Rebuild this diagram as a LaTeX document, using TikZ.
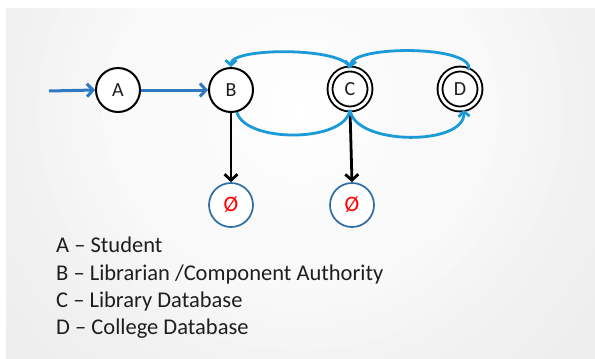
\documentclass[tikz,border=0pt]{standalone}
\usepackage{fontspec}
\setmainfont{Carlito}
\usetikzlibrary{arrows.meta}
\definecolor{arrblue}{HTML}{2F78C2}
\definecolor{loopcyan}{HTML}{1A9AD6}
\definecolor{emptyblue}{HTML}{2E6DA4}
\definecolor{txt}{HTML}{1E1E1E}
\tikzset{
  state/.style={circle, draw=black, line width=2bp, minimum size=44bp, inner sep=0pt, fill=white,
    font=\fontsize{20bp}{24bp}\selectfont, text=txt},
  accstate/.style={state, minimum size=40bp, double=white, double distance=3bp, line width=1.9bp},
  emptystate/.style={circle, draw=emptyblue, line width=1.7bp, minimum size=44bp, inner sep=0pt, fill=white,
    font=\fontsize{22bp}{26bp}\selectfont, text=red},
  bluearrow/.style={draw=arrblue, line width=3bp, -{Straight Barb[length=6bp,width=13bp]}},
  blackarrow/.style={draw=black, line width=2.8bp, -{Straight Barb[length=6bp,width=13bp]}},
  cyanarrow/.style={draw=loopcyan, line width=2.8bp, -{Straight Barb[length=5bp,width=11bp]}},
  cyanline/.style={draw=loopcyan, line width=2.8bp},
  legend/.style={anchor=base west, inner sep=0pt, font=\fontsize{22.5bp}{26bp}\selectfont, text=txt}
}
\begin{document}
\begin{tikzpicture}[x=1bp,y=-1bp]
\useasboundingbox (0,0) rectangle (595,358);
\fill[white] (0,0) rectangle (595,358);
\begin{scope}
  \clip (6,8) rectangle (595,358);
  \fill[black!12] (6,8) rectangle (595,358);
  \shade[inner color=white, outer color=black!12] (300,110) circle (640);
  \foreach \r in {240,210,180,150,120,90}
    \fill[white, opacity=0.15] (300,110) ellipse ({\r*1.1} and \r);
\end{scope}

\node[state] (A) at (118,90) {A};
\node[state] (B) at (231,90) {B};
\node[accstate] (C) at (350,89) {C};
\node[accstate] (D) at (460,89) {D};
\node[emptystate] (e1) at (231,205) {Ø};
\node[emptystate] (e2) at (352,205) {Ø};
\coordinate (start) at (49,91);

\draw[bluearrow] (start) -- (A.west);
\draw[bluearrow] (A.east) -- (B.west);

\draw[blackarrow] (B.south) -- (e1.north);
\draw[blackarrow] (C.south) -- (e2.north);

\draw[cyanarrow] (C.north) .. controls (345,47) and (231,47) .. (B.north);
\draw[cyanarrow] (D.65) .. controls (475,45) and (352,45) .. (C.north);
\draw[cyanline] (B.-75) .. controls (245,143) and (345,143) .. (C.south);
\draw[cyanarrow] (C.south) .. controls (355,146) and (466,146) .. (D.-80);

\node[legend] (l1) at (56,252) {A – Student};
\node[legend] (l2) at (56,280) {B – Librarian /Component Authority};
\node[legend] (l3) at (56,307) {C – Library Database};
\node[legend] (l4) at (56,334) {D – College Database};
\end{tikzpicture}
\end{document}
